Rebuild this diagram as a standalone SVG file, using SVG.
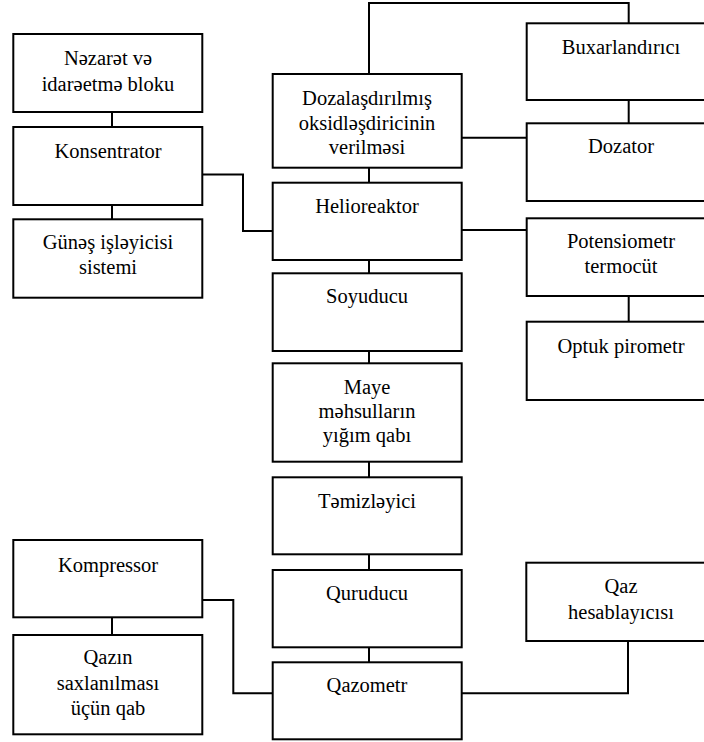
<svg xmlns="http://www.w3.org/2000/svg" width="704" height="742" viewBox="0 0 704 742" font-family="Liberation Serif, Times New Roman, serif" font-size="20.5" text-anchor="middle">
<style>
.b{fill:#fff;stroke:#000;stroke-width:2}
.c{fill:none;stroke:#000;stroke-width:2}
</style>
<rect width="704" height="742" fill="#fff"/>
<g id="connectors">
<path class="c" d="M112 112V127M112 205V220"/>
<path class="c" d="M203 174.5H243V231H273"/>
<path class="c" d="M369 74V3H628.7V23.3"/>
<path class="c" d="M628.7 100V123.3"/>
<path class="c" d="M462 137.7H527"/>
<path class="c" d="M369 167.7V182.7M369 260V273.3M369 351V363.3M369 461.7V477.3M369 554.3V570M369 647.3V662.3"/>
<path class="c" d="M462 230H527"/>
<path class="c" d="M628.7 296V321.7"/>
<path class="c" d="M112 617.3V635"/>
<path class="c" d="M202.3 600H233.3V693.3H273"/>
<path class="c" d="M462 693.3H628V641"/>
</g>
<g id="nezaret"><rect class="b" x="13.3" y="34" width="189" height="78"/><text x="108" y="65.3">Nəzarət və</text><text x="108" y="90.7">idarəetmə bloku</text></g>
<g id="konsentrator"><rect class="b" x="13.3" y="127" width="189" height="78"/><text x="108" y="158.3">Konsentrator</text></g>
<g id="gunes"><rect class="b" x="13.3" y="219.3" width="189" height="78.4"/><text x="108" y="249">Günəş işləyicisi</text><text x="108" y="274.3">sistemi</text></g>
<g id="dozalasdirilmis"><rect class="b" x="272.7" y="74" width="189" height="93.7"/><text x="367" y="105">Dozalaşdırılmış</text><text x="367" y="129.5">oksidləşdiricinin</text><text x="367" y="154">verilməsi</text></g>
<g id="helioreaktor"><rect class="b" x="272.7" y="182.7" width="189" height="77.3"/><text x="367" y="213.3">Helioreaktor</text></g>
<g id="soyuducu"><rect class="b" x="272.7" y="273.3" width="189" height="77.7"/><text x="367" y="303.3">Soyuducu</text></g>
<g id="maye"><rect class="b" x="272.7" y="363.3" width="189" height="98.4"/><text x="367" y="394">Maye</text><text x="367" y="418.3">məhsulların</text><text x="367" y="441.7">yığım qabı</text></g>
<g id="temizleyici"><rect class="b" x="272.7" y="477.3" width="189" height="77"/><text x="367" y="508.3">Təmizləyici</text></g>
<g id="quruducu"><rect class="b" x="272.7" y="570" width="189" height="77.3"/><text x="367" y="600">Quruducu</text></g>
<g id="qazometr"><rect class="b" x="272.7" y="662.3" width="189" height="77"/><text x="367" y="691.7">Qazometr</text></g>
<g id="buxarlandirici"><rect class="b" x="526.7" y="23.3" width="190" height="76.7"/><text x="621" y="54.3">Buxarlandırıcı</text></g>
<g id="dozator"><rect class="b" x="526.7" y="123.3" width="190" height="77.7"/><text x="621" y="153.3">Dozator</text></g>
<g id="potensiometr"><rect class="b" x="526.7" y="218.3" width="190" height="77.7"/><text x="621" y="248.3">Potensiometr</text><text x="621" y="273.3">termocüt</text></g>
<g id="optuk"><rect class="b" x="526.7" y="321.7" width="190" height="78.3"/><text x="621" y="353.3">Optuk pirometr</text></g>
<g id="kompressor"><rect class="b" x="13.3" y="540" width="189" height="77.3"/><text x="108" y="571.7">Kompressor</text></g>
<g id="qazin"><rect class="b" x="13.3" y="635" width="189" height="99.3"/><text x="108" y="664.3">Qazın</text><text x="108" y="690">saxlanılması</text><text x="108" y="715">üçün qab</text></g>
<g id="qazhesablayicisi"><rect class="b" x="526.3" y="562.7" width="190" height="78.3"/><text x="621" y="593.3">Qaz</text><text x="621" y="619.3">hesablayıcısı</text></g>
</svg>
